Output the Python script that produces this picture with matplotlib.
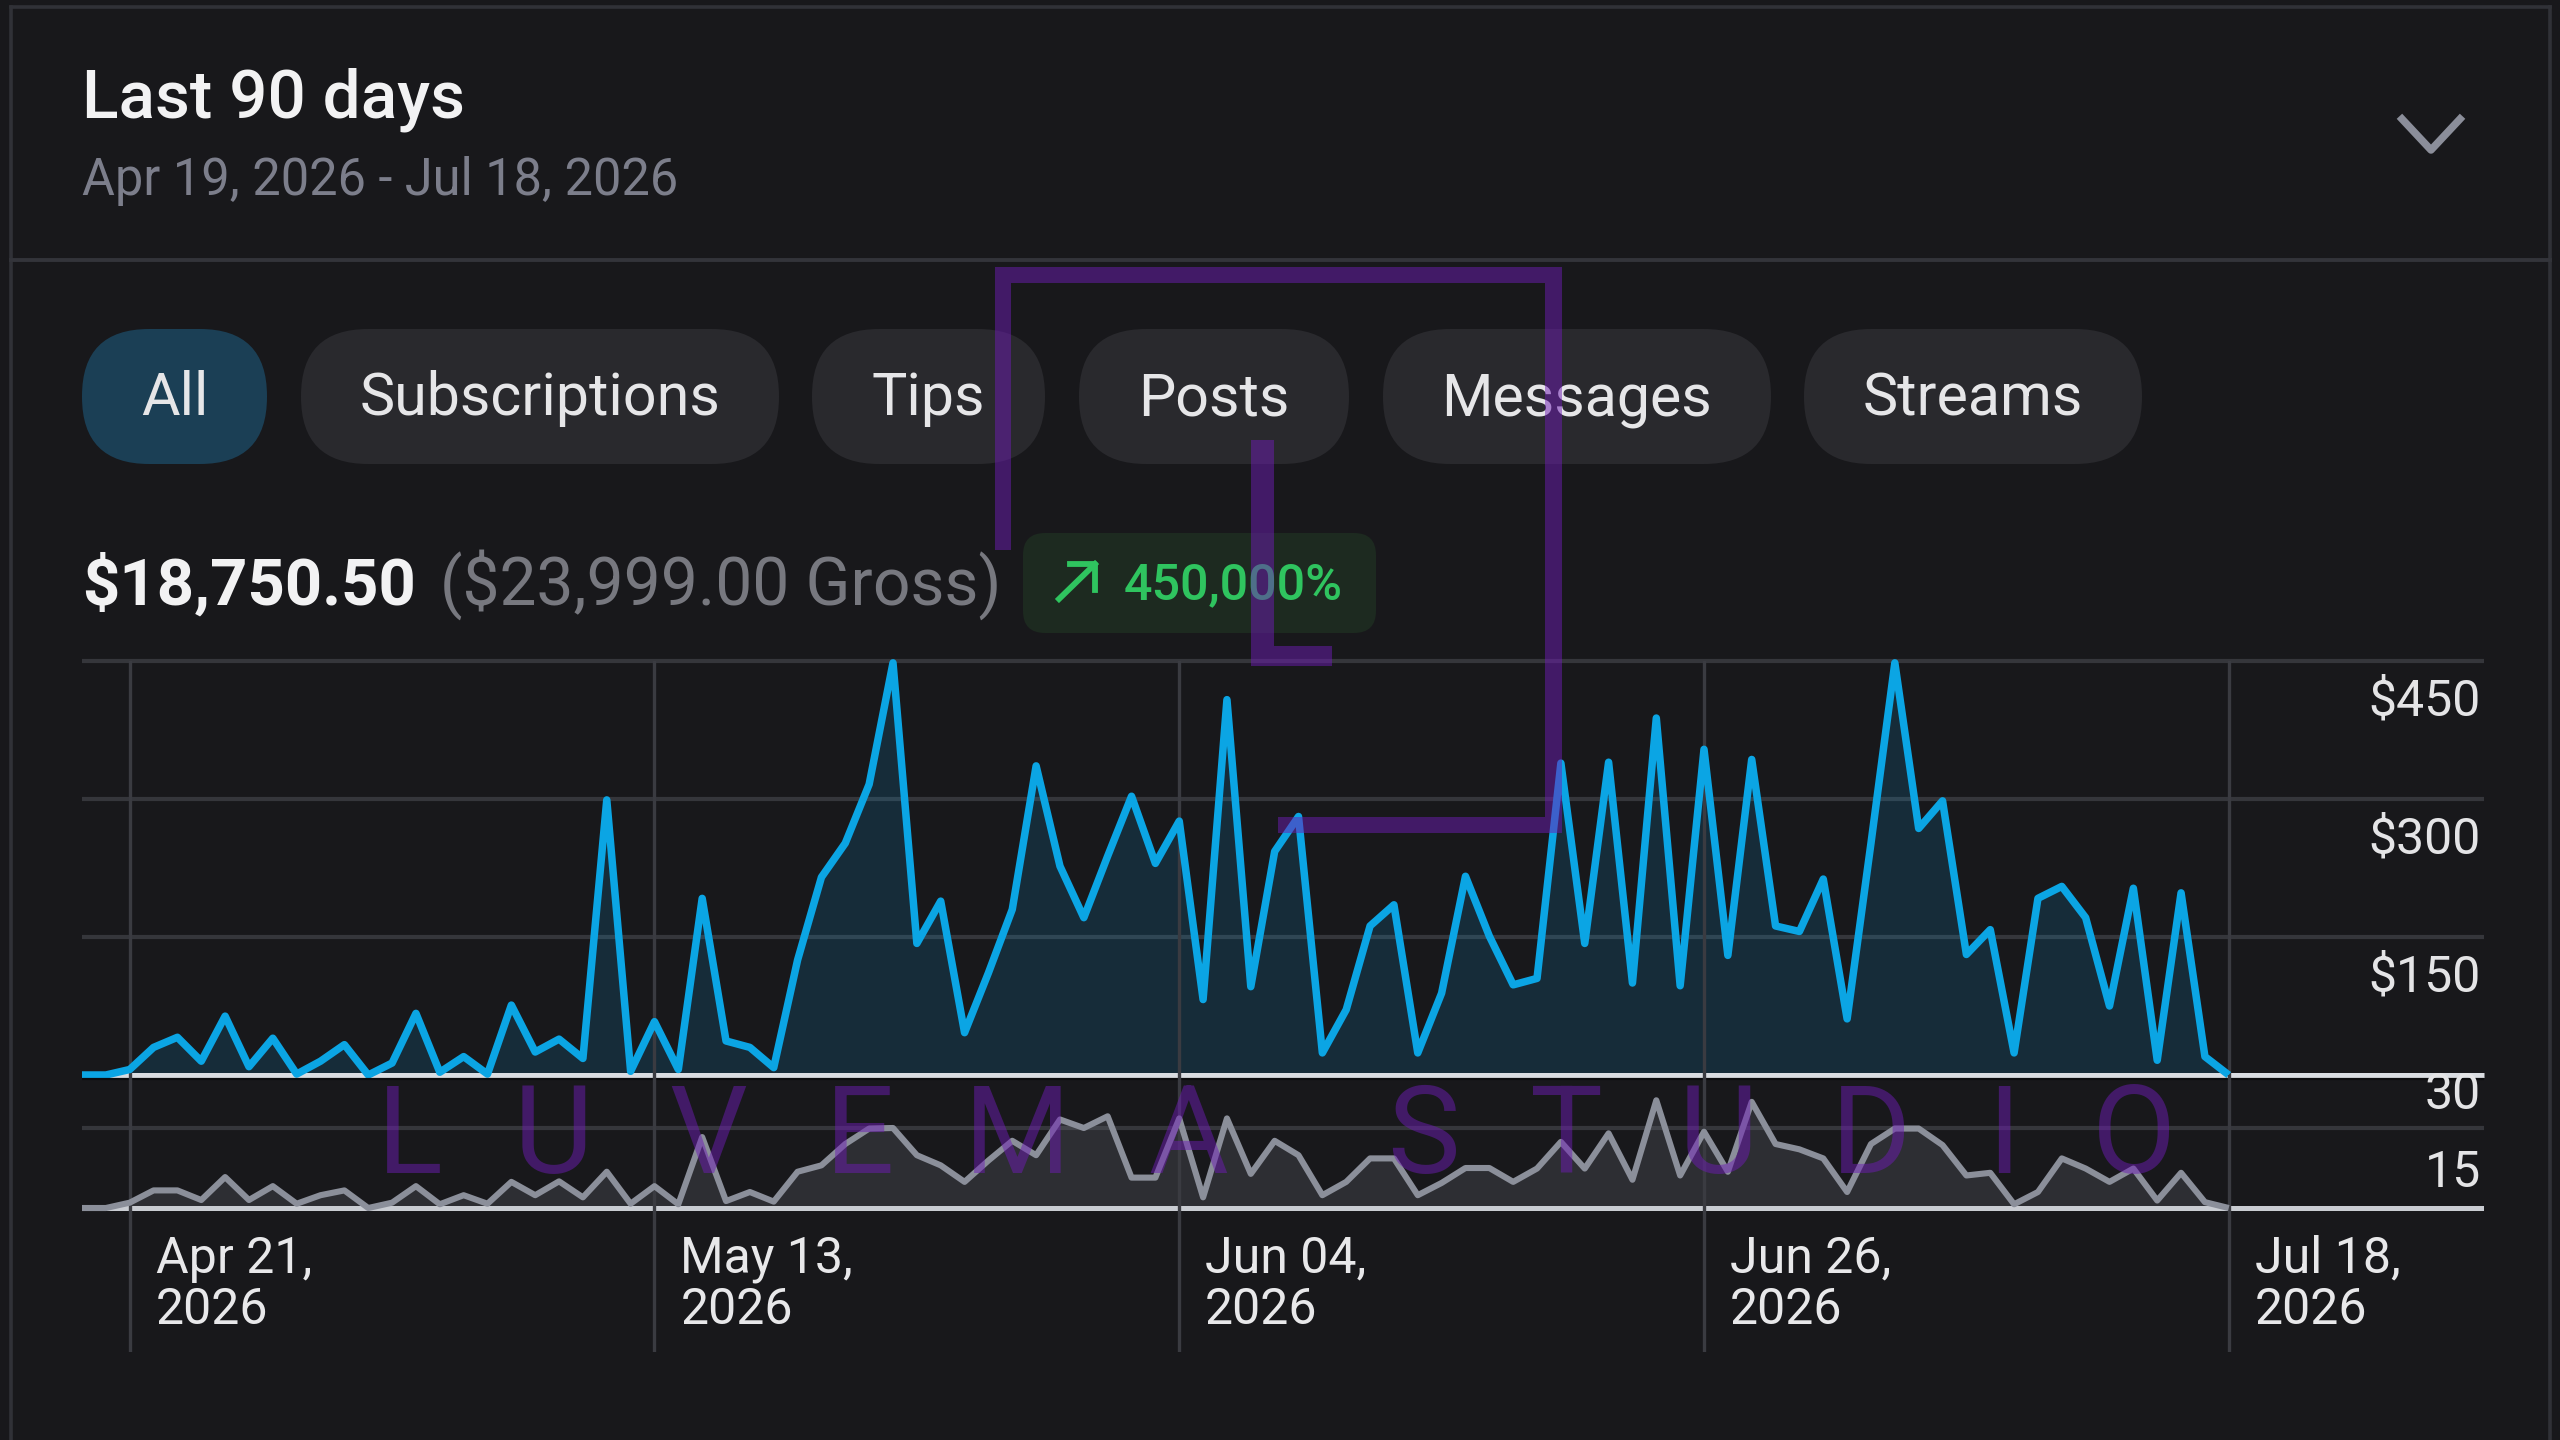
import matplotlib
matplotlib.use('Agg')
import matplotlib.pyplot as plt
import pandas as pd
from matplotlib.patches import FancyBboxPatch, Polygon

BG = '#18181b'
W, H = 2560, 1440

# daily values, Apr 19 to Jul 18
earnings = [0, 0, 6, 30, 41, 15, 64, 9, 40, 1, 15, 33, 0, 13, 67, 3, 20, 1, 76, 25,
            39, 18, 299, 4, 58, 6, 192, 37, 30, 8, 125, 215, 252, 316, 448, 143, 189, 46, 111, 180,
            336, 227, 171, 238, 303, 230, 276, 82, 408, 96, 243, 281, 24, 71, 162, 185, 24, 89, 216, 151,
            98, 105, 339, 143, 340, 100, 388, 97, 354, 130, 343, 162, 156, 213, 61, 252, 448, 268, 298, 131,
            158, 24, 192, 205, 171, 75, 203, 16, 198, 20, 0]
counts = [0, 0, 1, 3.3, 3.3, 1.5, 5.8, 1.5, 4.1, 0.8, 2.4, 3.3, 0, 1, 4.1, 0.7, 2.4, 0.8, 4.9, 2.4,
          5, 2, 6.8, 0.8, 4.1, 0.7, 13.3, 1.3, 3, 1.2, 6.8, 8, 12, 14.9, 15, 9.9, 8, 4.9, 8.9, 12.6,
          9.9, 16.6, 15, 17.2, 5.7, 5.7, 16.8, 2, 16.8, 6.4, 12.6, 9.9, 2.4, 4.9, 9.3, 9.3, 2.4, 4.7, 7.5, 7.5,
          4.9, 7.4, 12.4, 7.4, 14, 5.3, 20.2, 6.1, 14.3, 6.8, 19.9, 12, 11, 9.3, 3, 12, 14.9, 14.9, 11.8, 6.1,
          6.6, 0.7, 3, 9.3, 7.4, 4.9, 7.4, 1.4, 6.6, 1.1, 0]
days = pd.date_range('2026-04-19', '2026-07-18')

tick_days = ['2026-04-21', '2026-05-13', '2026-06-04', '2026-06-26', '2026-07-18']
tick_labels = ['Apr 21,\n2026', 'May 13,\n2026', 'Jun 04,\n2026', 'Jun 26,\n2026', 'Jul 18,\n2026']
upper_ticks = [150, 300, 450]
upper_labels = ['$150', '$300', '$450']
pills = ['All', 'Subscriptions', 'Tips', 'Posts', 'Messages', 'Streams']
pill_edges = [(82, 267), (301, 779), (812, 1045), (1079, 1349), (1383, 1771), (1804, 2142)]
wm_letters = list('LUVEMASTUDIO')
wm_centers = [410, 553, 708, 860, 1017, 1188, 1423, 1566, 1718, 1871, 2004, 2134]

plt.rcParams['font.family'] = ['Roboto', 'DejaVu Sans']


def px_axes(fig, left, top, right, bottom, z):
    return fig.add_axes([left / W, 1 - bottom / H, (right - left) / W, (bottom - top) / H], zorder=z)


fig = plt.figure(figsize=(25.6, 14.4), dpi=100, facecolor=BG)

# header, filter pills and totals
bg = px_axes(fig, 0, 0, W, H, 0)
bg.set_xlim(0, W)
bg.set_ylim(H, 0)
bg.axis('off')
bg.plot([11, 11], [7, H], color='#303137', lw=2.6)
bg.plot([2550, 2550], [7, H], color='#303137', lw=2.6)
bg.plot([11, 2550], [7, 7], color='#303137', lw=2.6)
bg.plot([11, 2550], [260, 260], color='#33343a', lw=2.8)
bg.text(82, 117, 'Last 90 days', color='#f2f2f3', fontsize=48.6, fontweight='medium', va='baseline')
bg.text(82, 195, 'Apr 19, 2026 - Jul 18, 2026', color='#7c7e8b', fontsize=36.4, va='baseline')
bg.plot([2402, 2431, 2460], [119, 150, 119], color='#8b8e9a', lw=5.4)

for name, (x0, x1) in zip(pills, pill_edges):
    face = '#1b3f55' if name == 'All' else '#29292d'
    bg.add_patch(FancyBboxPatch((x0, 329), x1 - x0, 135, boxstyle='round,pad=0,rounding_size=67',
                                fc=face, ec='none'))
    bg.text((x0 + x1) / 2, 415, name, color='#e6e6e8', fontsize=42.6, ha='center', va='baseline')

bg.text(82, 605, '$18,750.50', color='#f2f2f3', fontsize=47, fontweight='bold', va='baseline')
bg.text(440, 605, '($23,999.00 Gross)', color='#77787f', fontsize=47.4, va='baseline')
bg.add_patch(FancyBboxPatch((1023, 533), 353, 100, boxstyle='round,pad=0,rounding_size=22',
                            fc='#1d2a20', ec='none'))
bg.plot([1059, 1095], [599, 564], color='#2fc45f', lw=4.2)
bg.plot([1070, 1095, 1095], [564, 564, 590], color='#2fc45f', lw=4.2)
bg.text(1124, 599, '450,000%', color='#2fc45f', fontsize=36.2, fontweight='medium', va='baseline')

# earnings chart
ax = px_axes(fig, 82, 661, 2484, 1075, 1)
# daily counts chart, axes run down past the date labels for the long tick lines
ax2 = px_axes(fig, 82, 1075, 2484, 1352, 1)
x_range = (days[0], days[0] + pd.Timedelta(days=100.7))
for a in (ax, ax2):
    a.set_xlim(x_range)
    a.patch.set_alpha(0)
    for s in a.spines.values():
        s.set_visible(False)
    a.tick_params(left=False, bottom=False, labelleft=False, labelbottom=False)
    for d in tick_days:
        a.axvline(pd.Timestamp(d), color='#3a3b41', lw=2.4, zorder=4)

ax.set_ylim(0, 450)
for v in upper_ticks:
    ax.axhline(v, color='#35363b', lw=3, zorder=1, clip_on=False, solid_capstyle='butt')
ax.axhline(0, color='#d9dce1', lw=3.6, zorder=3, clip_on=False, solid_capstyle='butt')
ax.fill_between(days, earnings, 0, color='#0ea5e9', alpha=0.15, lw=0, zorder=2)
ax.plot(days, earnings, color='#0ba5e4', lw=5.4, zorder=5, clip_on=False, solid_joinstyle='round',
        solid_capstyle='butt')

ax2.set_ylim(-27, 24.94)
ax2.axhline(15, color='#35363b', lw=3, zorder=1, solid_capstyle='butt')
ax2.axhline(0, color='#c9ccd2', lw=3.6, zorder=3, solid_capstyle='butt')
# dark edge under the earnings baseline
ax2.axhline(24.94 - 0.7, color='#0c0c0e', lw=1.6, zorder=1, solid_capstyle='butt')
ax2.fill_between(days, counts, 0, color='#6b6e78', alpha=0.26, lw=0, zorder=2)
ax2.plot(days, counts, color='#8b8f9a', lw=4.4, zorder=5, solid_joinstyle='round', solid_capstyle='butt')

for v, label in zip(upper_ticks, upper_labels):
    ax.annotate(label, xy=(1, v), xycoords=('axes fraction', 'data'), xytext=(-3, -55),
                textcoords='offset pixels', ha='right', va='baseline', color='#e4e4e6', fontsize=36)
ax2.annotate('30', xy=(1, 1), xycoords='axes fraction', xytext=(-3, -34),
             textcoords='offset pixels', ha='right', va='baseline', color='#e4e4e6', fontsize=36)
ax2.annotate('15', xy=(1, 15), xycoords=('axes fraction', 'data'), xytext=(-3, -59),
             textcoords='offset pixels', ha='right', va='baseline', color='#e4e4e6', fontsize=36)

for d, label in zip(tick_days, tick_labels):
    ax2.annotate(label, xy=(pd.Timestamp(d), 0), xycoords='data', xytext=(26, -116),
                 textcoords='offset pixels', ha='left', va='baseline', color='#e8e8ea',
                 fontsize=36, linespacing=1.08, annotation_clip=False)

# studio mark laid over everything
top = px_axes(fig, 0, 0, W, H, 5)
top.set_xlim(0, W)
top.set_ylim(H, 0)
top.axis('off')
mark = dict(fc='#6d1cb4', ec='none', alpha=0.5)
top.add_patch(Polygon([(995, 550), (995, 267), (1562, 267), (1562, 833), (1278, 833), (1278, 817),
                       (1545, 817), (1545, 283), (1011, 283), (1011, 550)], **mark))
top.add_patch(Polygon([(1251, 440), (1274, 440), (1274, 646), (1332, 646), (1332, 666), (1251, 666)], **mark))
for ch, cx in zip(wm_letters, wm_centers):
    top.text(cx, 1173, ch, color='#6d1cb4', alpha=0.5, fontsize=88, ha='center', va='baseline')

fig.savefig('out.png', dpi=100, facecolor=BG)
